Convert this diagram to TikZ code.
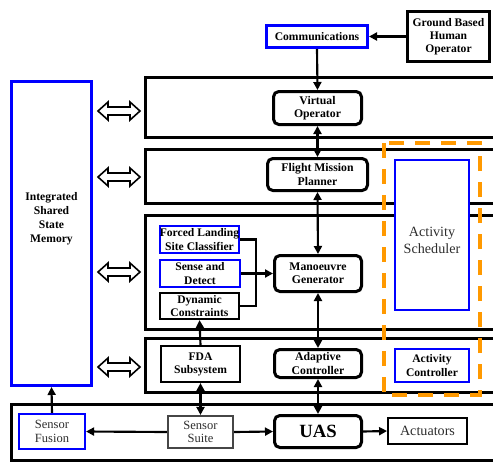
\documentclass[tikz,border=0pt]{standalone}
\usepackage{fontspec}
\setmainfont{Liberation Serif}
\usetikzlibrary{arrows.meta}
\definecolor{pureblue}{RGB}{0,0,255}
\definecolor{schedorange}{RGB}{255,153,0}
\definecolor{softtext}{RGB}{45,45,45}
\definecolor{softframe}{RGB}{70,70,70}
\newdimen\pxu \pxu=0.75pt

\tikzset{
  layerframe/.style={line width=2.25pt},
  corebox/.style={draw, line width=2.25pt, rounded corners=4pt, fill=white, align=center,
    inner sep=0pt, font=\fontsize{8.8}{9.9}\selectfont\bfseries},
  subbox/.style={draw, line width=1.6pt, fill=white, align=center, inner sep=0pt,
    font=\fontsize{8.7}{9.8}\selectfont\bfseries},
  plainbox/.style={draw, line width=1.4pt, fill=white, align=center, inner sep=0pt,
    text=softtext, font=\fontsize{9.4}{10.2}\selectfont},
  bluebox/.style={draw=pureblue},
  conn/.style={line width=1.6pt, -{Triangle[length=6pt,width=6pt]}},
  bothconn/.style={line width=1.6pt, {Triangle[length=6pt,width=6pt]}-{Triangle[length=6pt,width=6pt]}},
  plainline/.style={line width=1.6pt},
  biarrow/.pic={
    \draw[line width=1.2pt, fill=white] (-21,0) -- (-11,-9) -- (-11,-4) -- (11,-4) -- (11,-9)
      -- (21,0) -- (11,9) -- (11,4) -- (-11,4) -- (-11,9) -- cycle;
  }
}

\begin{document}
\begin{tikzpicture}[x=0.75pt,y=-0.75pt]
\useasboundingbox (0,0) rectangle (493,462);
\clip (0,0) rectangle (493,462);

% system layers, open towards the right
\draw[layerframe] (145,77) rectangle (520,137);
\draw[layerframe] (145,149) rectangle (520,203);
\draw[layerframe] (145,215) rectangle (520,329);
\draw[layerframe] (145,338) rectangle (520,392);
\draw[layerframe] (11,404) rectangle (520,460);

% activity management column
\node[draw=pureblue, line width=1.2pt, fill=white, minimum width=74\pxu, minimum height=150\pxu] (sched) at (432,235) {};
\node[text=softtext, align=center, font=\fontsize{10.6}{12.6}\selectfont] (schedtext) at (432,240) {Activity\\Scheduler};
\node[subbox, bluebox, minimum width=74\pxu, minimum height=33\pxu] (actc) at (432,365.5) {Activity\\Controller};
\draw[draw=schedorange, line width=2.6pt, dash pattern=on 15\pxu off 11\pxu] (384,143) rectangle (480,395);

% shared state memory
\node[draw=pureblue, line width=2.25pt, fill=white, minimum width=80\pxu, minimum height=304\pxu] (issm) at (51.5,233.5) {};
\node[align=center, font=\fontsize{8.7}{10.4}\selectfont\bfseries] (issmtext) at (51.5,218.5) {Integrated\\Shared\\State\\Memory};

% exchange with the shared memory
\pic at (119,111) {biarrow};
\pic at (119,177) {biarrow};
\pic at (119,272) {biarrow};
\pic at (119,367) {biarrow};

% operator side
\node[subbox, bluebox, line width=2.25pt, minimum width=101\pxu, minimum height=22\pxu] (comm) at (317,36.5) {Communications};
\node[subbox, line width=2.25pt, minimum width=82\pxu, minimum height=50\pxu] (gbho) at (448.5,36.5) {Ground Based\\Human\\Operator};

% core chain
\node[corebox, minimum width=88\pxu, minimum height=33\pxu] (vo) at (317.5,108) {Virtual\\Operator};
\node[corebox, minimum width=100\pxu, minimum height=32\pxu] (fmp) at (317.5,174.5) {Flight Mission\\Planner};
\node[corebox, minimum width=87\pxu, minimum height=36\pxu] (mg) at (318,273.5) {Manoeuvre\\Generator};
\node[corebox, minimum width=87\pxu, minimum height=28\pxu] (ac) at (318,363.5) {Adaptive\\Controller};
\node[corebox, minimum width=87\pxu, minimum height=32\pxu, font=\fontsize{14}{16}\selectfont\bfseries] (uas) at (318,431.5) {UAS};

% manoeuvre inputs
\node[subbox, bluebox, minimum width=79\pxu, minimum height=27\pxu] (flsc) at (199.5,239.5) {Forced Landing\\Site Classifier};
\node[subbox, bluebox, minimum width=80\pxu, minimum height=27\pxu] (sd) at (200,273.5) {Sense and\\Detect};
\node[subbox, minimum width=79\pxu, minimum height=26\pxu] (dc) at (199.5,306) {Dynamic\\Constraints};
\node[subbox, minimum width=79\pxu, minimum height=36\pxu] (fda) at (200.5,364) {FDA\\Subsystem};

% sensing and actuation
\node[plainbox, draw=pureblue, line width=1.6pt, minimum width=66\pxu, minimum height=35\pxu] (sf) at (52,431.5) {Sensor\\Fusion};
\node[plainbox, draw=softframe, line width=1.6pt, minimum width=65\pxu, minimum height=32\pxu] (ss) at (200.5,432) {Sensor\\Suite};
\node[plainbox, draw=black, font=\fontsize{10.6}{12}\selectfont, minimum width=79\pxu, minimum height=26\pxu] (act) at (427.5,431) {Actuators};

% connectors
\coordinate (bus) at (256,273.5);
\draw[conn] (gbho.west) -- (comm.east);
\draw[conn] (comm.south) -- (vo.north);
\draw[bothconn] (vo.south) -- (fmp.north);
\draw[bothconn] (fmp.south) -- (mg.north);
\draw[plainline] (flsc.east) -| (bus) |- (dc.east);
\draw[conn] (sd.east) -- (mg.west);
\draw[bothconn] (mg.south) -- (ac.north);
\draw[bothconn] (ac.south) -- (uas.north);
\draw[conn] (fda.north) -- (dc.south);
\draw[bothconn] (fda.south) -- (ss.north);
\draw[conn] (ss.west) -- (sf.east);
\draw[conn] (ss.east) -- (uas.west);
\draw[conn] (uas.east) -- (act.west);
\draw[conn] (sf.north) -- (issm.south);
\end{tikzpicture}
\end{document}
